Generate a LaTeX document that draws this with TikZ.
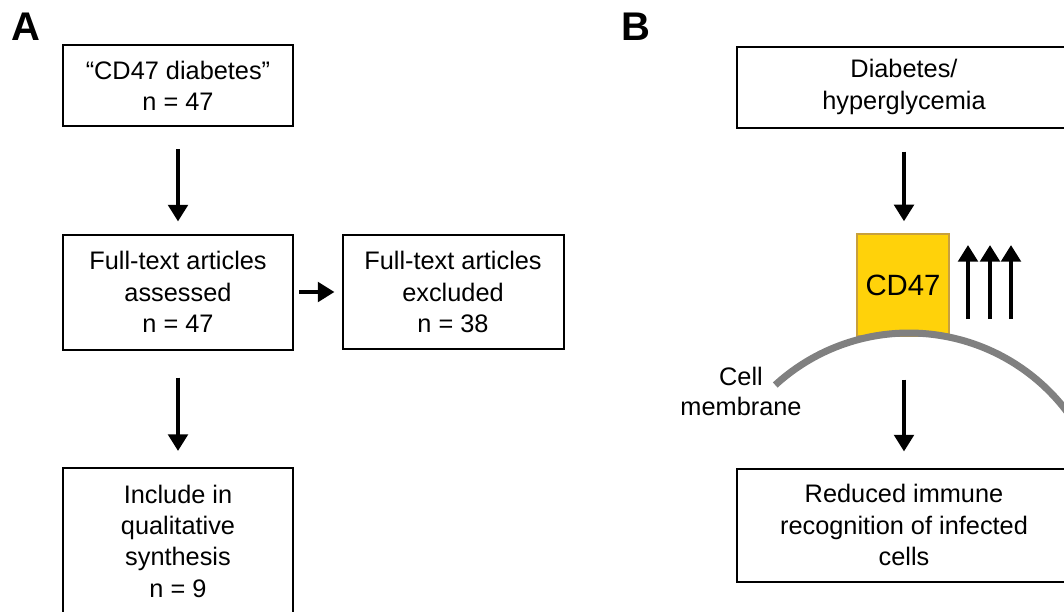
\documentclass[tikz,border=0pt]{standalone}
\usepackage{fontspec}
\setmainfont{Liberation Sans}
\usetikzlibrary{arrows.meta}
\definecolor{cdgold}{RGB}{255,210,10}
\definecolor{cdedge}{RGB}{200,160,60}
\definecolor{membgray}{RGB}{128,128,128}
\tikzset{
  box/.style={draw, line width=1.5pt, align=center, inner sep=0pt,
    font=\fontsize{19pt}{23.5pt}\selectfont},
  arr/.style={line width=3.3pt, -{Triangle[length=12.5pt,width=14.5pt]}},
  panel/.style={font=\fontsize{30pt}{30pt}\selectfont\bfseries, inner sep=0pt, anchor=base west},
  txt/.style={align=center, inner sep=0pt, font=\fontsize{19pt}{22.5pt}\selectfont}
}
\begin{document}
\begin{tikzpicture}[x=0.75pt, y=-0.75pt]
  \useasboundingbox (0,0) rectangle (1064,611);

  \node[panel] (pa) at (11,40) {A};
  \node[panel] (pb) at (621,40) {B};

  \node[box, minimum width=172.5pt, minimum height=60.75pt] (a1) at (178,85.5) {“CD47 diabetes”\\n = 47};
  \node[box, minimum width=172.5pt, minimum height=86.25pt] (a2) at (178,292) {Full-text articles\\assessed\\n = 47};
  \node[box, minimum width=165.75pt, minimum height=85.5pt] (a3) at (453,292) {Full-text articles\\excluded\\n = 38};
  \node[box, minimum width=172.5pt, minimum height=109.5pt] (a4) at (178,541) {Include in\\qualitative\\synthesis\\n = 9};

  \draw[arr, shorten <=16.5pt, shorten >=9pt] (a1.south) -- (a2.north);
  \draw[arr, shorten <=3.75pt, shorten >=5.25pt] (a2.east) -- (a2.east -| a3.west);
  \draw[arr, shorten <=20.25pt, shorten >=12pt] (a2.south) -- (a4.north);

  \node[box, minimum width=251.25pt, minimum height=60.75pt] (b1) at (904,87) {Diabetes/\\hyperglycemia};
  \node[draw=cdedge, fill=cdgold, line width=1.5pt, minimum width=69pt, minimum height=76pt,
    inner sep=0pt, font=\fontsize{22pt}{24pt}\selectfont] (cd) at (903,285) {CD47};
  \node[box, minimum width=251.25pt, minimum height=84.75pt] (b3) at (904,525) {Reduced immune\\recognition of infected\\cells};

  \draw[membgray, line width=5.25pt] (909,531) ++(-132.5:198) arc[start angle=-132.5, end angle=-33, radius=198];
  \node[txt] (memb) at (741,391) {Cell\\membrane};

  \draw[arr, shorten <=17.25pt, shorten >=9pt] (b1.south) -- (b1.south |- cd.north);
  \draw[arr, shorten <=32.25pt, shorten >=12pt] (b1.south |- cd.south) -- (b3.north);

  \foreach \x in {968,990,1011}
    \draw[arr] (\x,319) -- (\x,245);
\end{tikzpicture}
\end{document}
